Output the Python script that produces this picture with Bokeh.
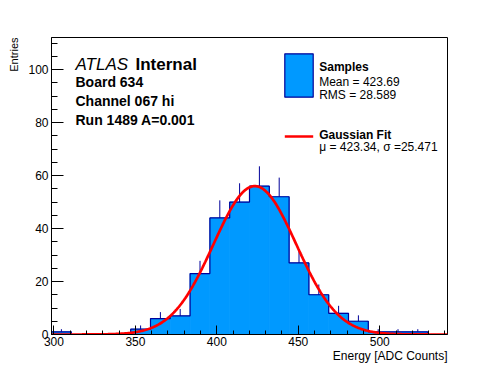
import numpy as np
from bokeh.plotting import figure
from bokeh.models import Label, BoxAnnotation, SingleIntervalTicker, Range1d, Title
from bokeh.embed import file_html
from bokeh.resources import INLINE

# ---- data ----
bin_lo = 298.5
bin_hi = 541.6
counts = [1, 0, 0, 0, 2, 6, 7, 23, 44, 50, 56, 52, 27, 15, 8, 5, 1, 1, 1, 0]
fit_mu = 423.34
fit_sigma = 25.471
fit_amp = 56.0
x_ticks_major = 50
y_ticks_major = 20
title_main = "ATLAS"
title_sub = "Internal"
info_lines = ["Board 634", "Channel 067 hi", "Run 1489 A=0.001"]
legend_hist = ["Samples", "Mean = 423.69", "RMS = 28.589"]
legend_fit = ["Gaussian Fit", "\u03bc = 423.34, \u03c3 =25.471"]
x_title = "Energy [ADC Counts]"
y_title = "Entries"

FONT = "Liberation Sans"
FILL = "#0099ff"
EDGE = "#000099"

counts = np.array(counts, dtype=float)
edges = np.linspace(bin_lo, bin_hi, len(counts) + 1)
centers = 0.5 * (edges[:-1] + edges[1:])

p = figure(width=496, height=372, output_backend="svg", toolbar_location=None,
           x_range=Range1d(bin_lo, bin_hi), y_range=Range1d(0, 112.1),
           min_border_left=50, min_border_right=49, min_border_top=37, min_border_bottom=38)
p.background_fill_color = "white"
p.border_fill_color = "white"
p.outline_line_color = "black"
p.outline_line_width = 1
p.xgrid.visible = False
p.ygrid.visible = False

# histogram fill (edge in fill colour to hide seams)
p.quad(left=edges[:-1], right=edges[1:], bottom=0, top=counts,
       fill_color=FILL, line_color=FILL, line_width=0.8)
# outline as step envelope
step_y = np.append(counts, counts[-1])
p.step(x=edges, y=step_y, mode="after", line_color=EDGE, line_width=1.2)
# error bars (upper halves visible)
nz = counts > 0
p.segment(x0=centers[nz], y0=counts[nz], x1=centers[nz], y1=counts[nz] + np.sqrt(counts[nz]),
          line_color=EDGE, line_width=1)

# gaussian fit
xs = np.linspace(bin_lo, bin_hi, 500)
ys = fit_amp * np.exp(-0.5 * ((xs - fit_mu) / fit_sigma) ** 2)
p.line(xs, ys, line_color="red", line_width=2.7)

# axes
for ax in (p.xaxis[0], p.yaxis[0]):
    ax.major_label_text_font = FONT
    ax.major_label_text_font_size = "12px"
    ax.major_label_text_color = "black"
    ax.axis_line_color = "black"
    ax.major_tick_line_color = "black"
    ax.minor_tick_line_color = "black"
    ax.major_tick_out = 0
    ax.minor_tick_out = 0
    ax.axis_label = None

p.xaxis.ticker = SingleIntervalTicker(interval=x_ticks_major, num_minor_ticks=5)
p.yaxis.ticker = SingleIntervalTicker(interval=y_ticks_major, num_minor_ticks=4)
p.xaxis.major_tick_in = 9
p.xaxis.minor_tick_in = 4
p.yaxis.major_tick_in = 12
p.yaxis.minor_tick_in = 6
p.xaxis.major_label_standoff = 2
p.yaxis.major_label_standoff = 3

# axis titles as panel titles (aligned to frame ends)
p.add_layout(Title(text=x_title, align="right", text_font=FONT, text_font_size="12px",
                   text_font_style="normal", text_color="black", standoff=-3, offset=0), "below")
p.add_layout(Title(text=y_title, align="right", text_font=FONT, text_font_size="11px",
                   text_font_style="normal", text_color="black", standoff=11, offset=0), "left")

def lab(text, x, y, size, style="normal", align="left", angle=0):
    p.add_layout(Label(x=x, y=y, x_units="screen", y_units="screen", text=text,
                       text_font=FONT, text_font_size=size, text_font_style=style,
                       text_align=align, text_baseline="alphabetic", angle=angle,
                       text_color="black"))

# ATLAS block
lab(title_main, 24, 270, "17px", style="italic")
lab(title_sub, 84, 270, "17px", style="bold")
for i, t in enumerate(info_lines):
    lab(t, 24, 252.5 - 19 * i, "14px", style="bold")

# legend
p.add_layout(BoxAnnotation(left=233.3, right=261.7, top=280.7, bottom=237.3,
                           left_units="screen", right_units="screen",
                           top_units="screen", bottom_units="screen",
                           fill_color=FILL, fill_alpha=1, line_color=EDGE, line_width=1.2,
                           line_alpha=1))
p.add_layout(BoxAnnotation(left=233.3, right=261.7, top=199.3, bottom=196.7,
                           left_units="screen", right_units="screen",
                           top_units="screen", bottom_units="screen",
                           fill_color="red", fill_alpha=1, line_color=None))
lab(legend_hist[0], 267.7, 268, "12px", style="bold")
lab(legend_hist[1], 267.7, 253, "12px")
lab(legend_hist[2], 267.7, 239.7, "12px")
lab(legend_fit[0], 267.7, 199.4, "12px", style="bold")
lab(legend_fit[1], 267.7, 187.7, "12px")

open("out.html", "w").write(file_html(p, INLINE))
